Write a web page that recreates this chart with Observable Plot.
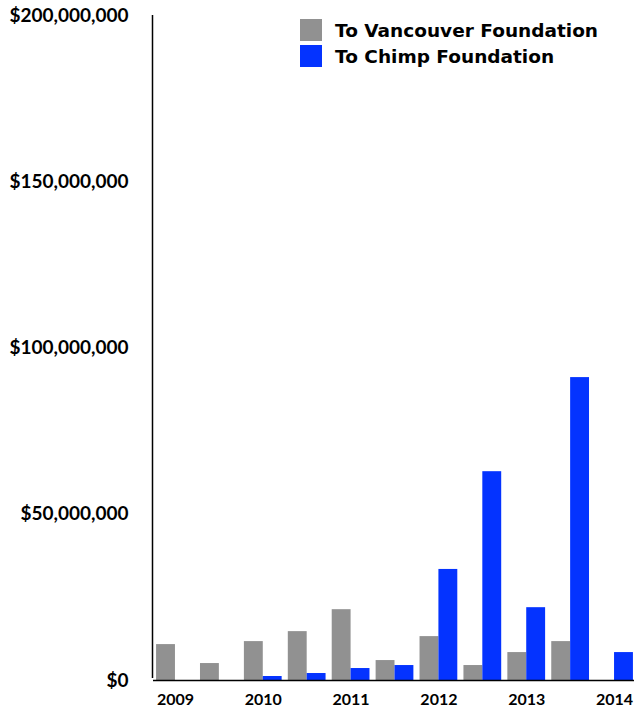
<!DOCTYPE html>
<html><head><meta charset="utf-8">
<script src="https://cdn.jsdelivr.net/npm/d3@7"></script>
<script src="https://cdn.jsdelivr.net/npm/@observablehq/plot@0.6"></script>
<style>
body{margin:0;background:#fff;}
#chart{position:relative;width:634px;height:711px;}
#legend{position:absolute;left:300px;top:17px;font-family:"DejaVu Sans";font-weight:bold;font-size:18.5px;color:#000;}
.row{display:flex;align-items:center;height:26px;}
.sw{width:22px;height:22px;margin-right:13px;}
</style></head><body>
<div id="chart"><div id="legend"></div></div>
<script>
const periods = ["2009a","2009b","2010a","2010b","2011a","2011b","2012a","2012b","2013a","2013b","2014a"];
const yearLabels = ["2009","","2010","","2011","","2012","","2013","","2014"];
const series = ["To Vancouver Foundation","To Chimp Foundation"];
const colors = ["#919191","#0433ff"];
const vancouver = [10.8e6,5.1e6,11.7e6,14.7e6,21.3e6,6.0e6,13.2e6,4.5e6,8.4e6,11.7e6,0];
const chimp = [0,0,1.2e6,2.1e6,3.6e6,4.5e6,33.4e6,62.8e6,21.9e6,91.1e6,8.4e6];
const yTicks = [0,50e6,100e6,150e6,200e6];

const half = 0.43; // bar width in period units
const data = periods.flatMap((p,i)=>[
  {i, series:series[0], value:vancouver[i]},
  {i, series:series[1], value:chimp[i]}
]);
const xTicks = periods.map((_,i)=>i).filter(i=>yearLabels[i]);
const xMin = -0.5;

const plot = Plot.plot({
  width:634, height:711, marginTop:15, marginBottom:31, marginLeft:153, marginRight:-2,
  style:{fontFamily:"Lato", fontWeight:"bold", color:"#000", background:"#fff"},
  x:{domain:[xMin, periods.length-0.5]},
  y:{domain:[0,200e6]},
  color:{domain:series, range:colors},
  marks:[
    Plot.rectY(data,{
      x1:d=>d.series===series[0] ? d.i-half : d.i,
      x2:d=>d.series===series[0] ? d.i : d.i+half,
      y1:0, y2:"value", fill:"series"}),
    Plot.ruleY([0], {stroke:"#000", strokeWidth:1.5}),
    Plot.ruleX([xMin], {y1:0, y2:200e6, stroke:"#000", strokeWidth:1.5, dx:-1, insetTop:-2}),
    Plot.axisY({ticks:yTicks, tickFormat:d=>"$"+d3.format(",")(d), tickSize:0, tickPadding:25, fontSize:19, label:null}),
    Plot.axisX({ticks:xTicks, tickFormat:i=>yearLabels[i], tickSize:0, tickPadding:13, fontSize:16, label:null})
  ]
});
document.getElementById("chart").prepend(plot);

const legend = document.getElementById("legend");
series.forEach((s,i)=>{
  const row = document.createElement("div"); row.className="row";
  const sw = document.createElement("div"); sw.className="sw"; sw.style.background=colors[i];
  const t = document.createElement("span"); t.textContent=s;
  row.append(sw,t); legend.append(row);
});
</script>
</body></html>
